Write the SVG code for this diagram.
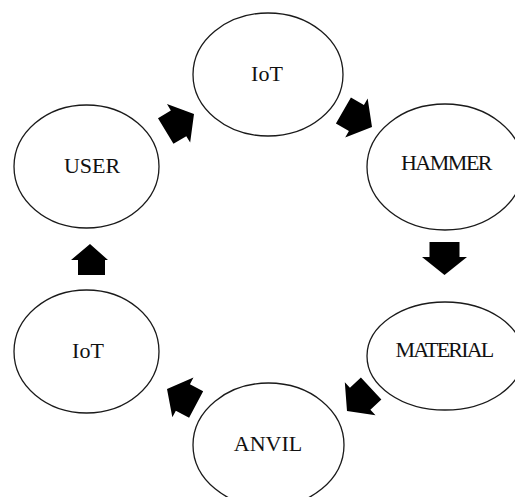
<svg xmlns="http://www.w3.org/2000/svg" width="515" height="497" viewBox="0 0 515 497">
  <style>
    .node ellipse { fill: #ffffff; stroke: #1a1a1a; stroke-width: 1.3; }
    .node text { font-family: "Liberation Serif", "Times New Roman", serif; font-size: 22px; fill: #111111; text-anchor: middle; }
    .arrow { fill: #000000; }
  </style>
  <defs>
    <!-- block arrow pointing along +x, tip at the origin -->
    <path id="blockArrow" d="M0,0 L-18,-22.5 L-18,-15 L-33,-15 L-33,15 L-18,15 L-18,22.5 Z"/>
  </defs>
  <rect width="515" height="497" fill="#ffffff"/>

  <g id="connectors">
    <!-- USER -> IoT -->
    <use href="#blockArrow" class="arrow" transform="translate(194,114) rotate(-31)"/>
    <!-- IoT -> HAMMER -->
    <use href="#blockArrow" class="arrow" transform="translate(372,127) rotate(30)"/>
    <!-- HAMMER -> MATERIAL -->
    <use href="#blockArrow" class="arrow" transform="translate(444.5,275) rotate(90)"/>
    <!-- MATERIAL -> ANVIL -->
    <use href="#blockArrow" class="arrow" transform="translate(347,411) rotate(137)"/>
    <!-- ANVIL -> IoT -->
    <use href="#blockArrow" class="arrow" transform="translate(167,389) rotate(208)"/>
    <!-- IoT -> USER -->
    <path class="arrow" d="M90,244 L108,260 L105,260 L105,275 L78,275 L78,260 L71,260 Z"/>
  </g>

  <g id="node-iot-top" class="node">
    <ellipse cx="268" cy="74.5" rx="75" ry="61.5"/>
    <text x="267" y="81">IoT</text>
  </g>
  <g id="node-user" class="node">
    <ellipse cx="86.5" cy="166.5" rx="72.5" ry="61.5"/>
    <text x="92" y="173">USER</text>
  </g>
  <g id="node-hammer" class="node">
    <ellipse cx="445" cy="167" rx="78" ry="63"/>
    <text x="446" y="170" letter-spacing="-1.5">HAMMER</text>
  </g>
  <g id="node-material" class="node">
    <ellipse cx="445" cy="356" rx="78" ry="54"/>
    <text x="444" y="357" letter-spacing="-1.8">MATERIAL</text>
  </g>
  <g id="node-anvil" class="node">
    <ellipse cx="268.5" cy="445" rx="75.5" ry="62"/>
    <text x="268" y="451">ANVIL</text>
  </g>
  <g id="node-iot-bottom" class="node">
    <ellipse cx="86.5" cy="351.5" rx="72.5" ry="61.5"/>
    <text x="88" y="358">IoT</text>
  </g>
</svg>
